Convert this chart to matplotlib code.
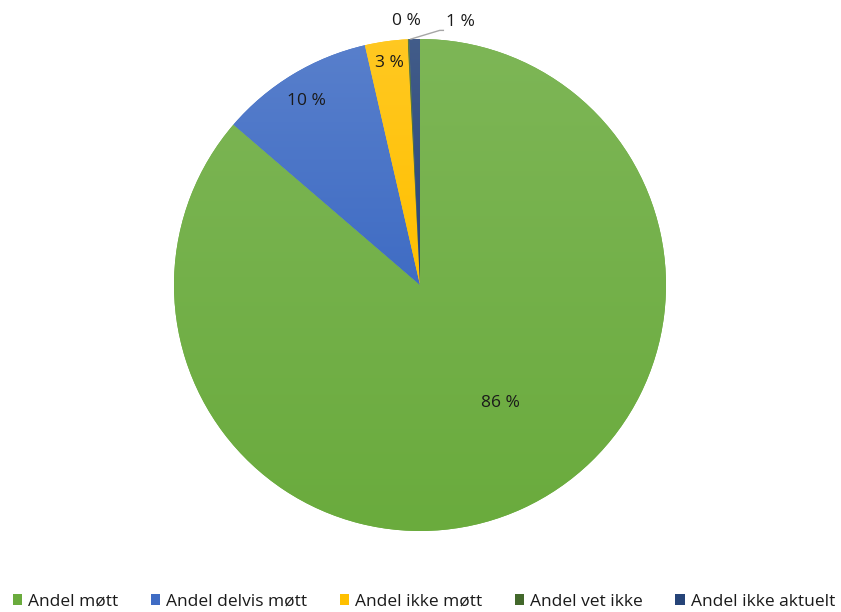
import numpy as np
import matplotlib.pyplot as plt
from matplotlib.colors import to_rgb, LinearSegmentedColormap
from matplotlib.patches import Patch

plt.rcParams['font.family'] = ['Open Sans', 'DejaVu Sans']

categories = ["Andel møtt", "Andel delvis møtt", "Andel ikke møtt",
              "Andel vet ikke", "Andel ikke aktuelt"]
shares = [86.3, 10.1, 2.8, 0.1, 0.7]
colors = ["#6aab3d", "#3f6cc4", "#ffc000", "#43682b", "#264478"]

# label placement: (radius, angle shift in degrees) per slice
label_pos = [(0.58, 9.6), (0.88, 0.5), (0.91, 0.0), (1.075, 0.3), (1.08, -10.0)]

fig = plt.figure(figsize=(8.41, 6.12), dpi=100)
ax = fig.add_axes([174 / 841, 81 / 612, 492 / 841, 492 / 612])

wedges, _ = ax.pie(shares, colors=colors, startangle=90, counterclock=False,
                   radius=1.0, wedgeprops=dict(linewidth=0))
ax.set_aspect('equal')
ax.axis('off')

# soft vertical gradient on each slice, lighter at the top
for w, c in zip(wedges, colors):
    base = np.array(to_rgb(c))
    light = base + (1 - base) * 0.13
    cmap = LinearSegmentedColormap.from_list("g", [base, light])
    ext = w.get_path().get_extents()
    grad = np.linspace(0, 1, 256).reshape(-1, 1)
    im = ax.imshow(grad, cmap=cmap, origin='lower', aspect='auto',
                   extent=[ext.x0, ext.x1, ext.y0, ext.y1], zorder=w.get_zorder())
    im.set_clip_path(w)
ax.set_xlim(-1, 1)
ax.set_ylim(-1, 1)

for w, v, (r, shift) in zip(wedges, shares, label_pos):
    mid = np.deg2rad((w.theta1 + w.theta2) / 2 + shift)
    ax.text(r * np.cos(mid), r * np.sin(mid), f"{v:.0f} %", ha='center', va='center',
            fontsize=12.5, color='#1a1a1a', clip_on=False, zorder=5)

# leader line for the smallest slice
last = wedges[-1]
mid = np.deg2rad((last.theta1 + last.theta2) / 2)
x0, y0 = np.cos(mid), np.sin(mid)
ax.plot([x0 - 0.015, 0.08, 0.095], [y0, 1.035, 1.035], color='#a6a6a6', lw=1,
        clip_on=False, zorder=4)

handles = [Patch(facecolor=c, edgecolor='none') for c in colors]
fig.legend(handles, categories, loc='lower center', bbox_to_anchor=(0.504, -0.022),
           ncol=5, frameon=False, fontsize=12.5, handlelength=0.55, handleheight=0.55,
           handletextpad=0.35, columnspacing=1.85, labelcolor='#1a1a1a')

fig.savefig("out.png", dpi=100)
